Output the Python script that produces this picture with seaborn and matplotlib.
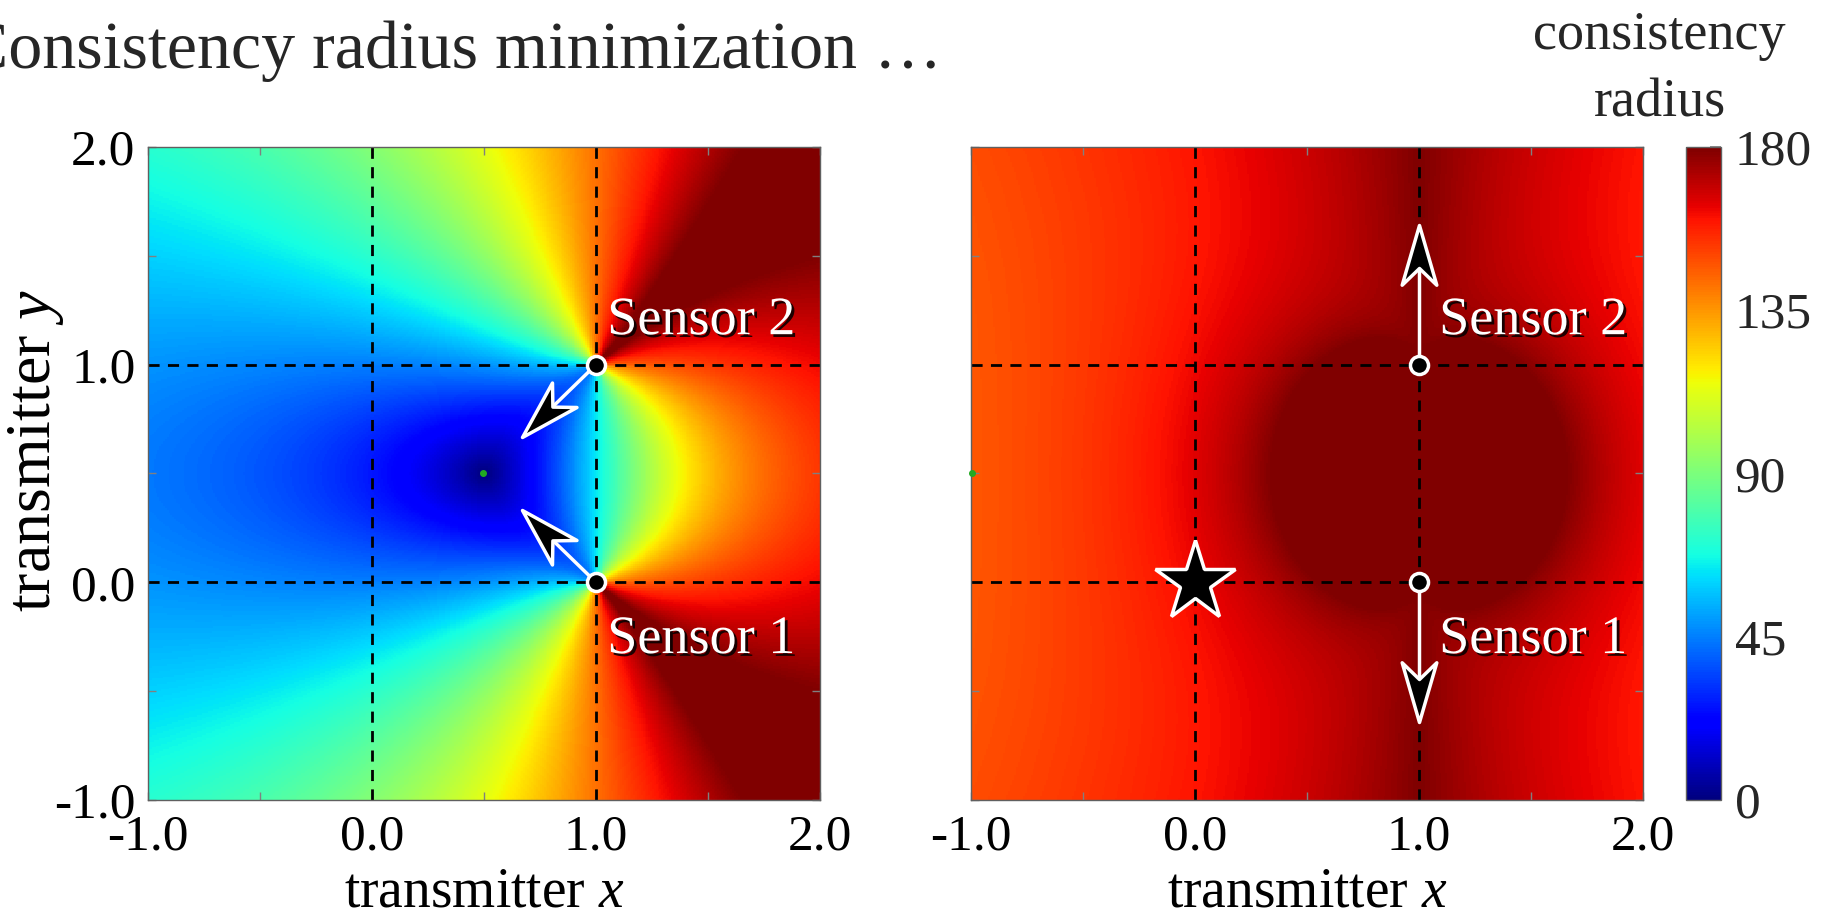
import numpy as np
import pandas as pd
import matplotlib
matplotlib.use('Agg')
import matplotlib.pyplot as plt
import matplotlib.patheffects as pe
from matplotlib.markers import MarkerStyle
from matplotlib.path import Path
from matplotlib.transforms import Affine2D
from matplotlib.ticker import MultipleLocator
import seaborn as sns

# sensors: position and measured bearing (degrees, ccw from +x)
sensor_names = ['Sensor 1', 'Sensor 2']
sensor_x = [1.0, 1.0]
sensor_y = [0.0, 1.0]
bearings_start = [135.0, 225.0]   # left panel, before minimization
bearings_end = [270.0, 90.0]      # right panel
arrow_len_start = 0.47
arrow_len_end = 0.64

# transmitter estimate shown on the right panel
star_x = [0.0]
star_y = [0.0]

guide_lines = [0.0, 1.0]
x_range = [-1.0, 2.0]
y_range = [-1.0, 2.0]
axis_ticks = [-1.0, 0.0, 1.0, 2.0]
axis_ticklabels = ['-1.0', '0.0', '1.0', '2.0']
cbar_ticks = [0, 45, 90, 135, 180]
n_cells = 360


def consistency_radius(bearings, n=n_cells):
    # angular mismatch of each sensor's bearing vs. a transmitter at each cell
    step = (x_range[1] - x_range[0]) / n
    xs = x_range[0] + (np.arange(n) + 0.5) * step
    ys = y_range[1] - (np.arange(n) + 0.5) * step   # top row first (heatmap)
    gx, gy = np.meshgrid(xs, ys)
    sq = np.zeros_like(gx)
    for sx, sy, b in zip(sensor_x, sensor_y, bearings):
        ang = np.degrees(np.arctan2(gy - sy, gx - sx))
        err = np.abs((ang - b + 180.0) % 360.0 - 180.0)
        sq += err ** 2
    field = np.minimum(np.sqrt(sq), 180.0)
    return pd.DataFrame(field, index=ys, columns=xs)


sns.set_theme(style='ticks')
plt.rcParams['font.family'] = ['Liberation Serif', 'DejaVu Serif']
plt.rcParams['mathtext.fontset'] = 'custom'
plt.rcParams['mathtext.it'] = 'Liberation Serif:italic'
plt.rcParams['mathtext.rm'] = 'Liberation Serif'
plt.rcParams['axes.unicode_minus'] = False

fig = plt.figure(figsize=(18.3, 9.17), dpi=100)
pos_left = [0.0809, 0.1276, 0.3672, 0.7121]
pos_right = [0.5306, 0.1276, 0.3672, 0.7121]
pos_cbar = [0.9213, 0.1276, 0.0191, 0.7121]
cax = fig.add_axes(pos_cbar)

head_path = Path([(0, 0), (-1.0, 0.29), (-0.72, 0.0), (-1.0, -0.29), (0, 0)],
                 [Path.MOVETO, Path.LINETO, Path.LINETO, Path.LINETO, Path.CLOSEPOLY])
shadow = [pe.withSimplePatchShadow(offset=(2, -2), shadow_rgbFace='black', alpha=0.85)]


def draw_panel(pos, bearings, arrow_len, label_dx, with_cbar, show_ylabels):
    field = consistency_radius(bearings)

    ax_img = fig.add_axes(pos)
    sns.heatmap(field, ax=ax_img, cmap='jet', vmin=0, vmax=180,
                cbar=with_cbar, cbar_ax=cax if with_cbar else None,
                xticklabels=False, yticklabels=False, rasterized=True)
    ax_img.set_axis_off()

    ax = fig.add_axes(pos, facecolor='none')
    ax.set_zorder(ax_img.get_zorder() + 1)
    ax.set_xlim(x_range)
    ax.set_ylim(y_range)

    for g in guide_lines:
        ax.axvline(g, color='black', lw=2, ls=(0, (4, 3)), zorder=2)
        ax.axhline(g, color='black', lw=2, ls=(0, (4, 3)), zorder=2)

    # position of the field minimum
    iy, ix = np.unravel_index(np.argmin(field.values), field.shape)
    ax.plot(field.columns[ix], field.index[iy], 'o', ms=4, color='#22aa22', zorder=3, clip_on=False)

    for name, sx, sy, b in zip(sensor_names, sensor_x, sensor_y, bearings):
        d = np.array([np.cos(np.radians(b)), np.sin(np.radians(b))])
        tip = np.array([sx, sy]) + arrow_len * d
        shaft_end = tip - 0.15 * d
        ax.plot([sx, shaft_end[0]], [sy, shaft_end[1]], color='white', lw=2.5, zorder=4)
        ax.plot(tip[0], tip[1], ls='none',
                marker=MarkerStyle(head_path, transform=Affine2D().rotate_deg(b)),
                ms=86, mfc='black', mec='white', mew=2.5, zorder=5)
        dy = 0.14 if sy > 0.5 else -0.325
        ax.text(sx + label_dx, sy + dy, name, color='white', fontsize=39,
                ha='left', va='baseline', path_effects=shadow, zorder=7)

    ax.plot(sensor_x, sensor_y, 'o', ms=13, mfc='black', mec='white', mew=2.5, zorder=6)

    ax.set_xticks(axis_ticks, axis_ticklabels)
    ax.set_yticks(axis_ticks, axis_ticklabels if show_ylabels else [])
    ax.xaxis.set_minor_locator(MultipleLocator(0.5))
    ax.yaxis.set_minor_locator(MultipleLocator(0.5))
    ax.tick_params(which='both', direction='in', top=True, right=True,
                   color='#808080', labelsize=37, labelcolor='black')
    ax.tick_params(which='major', length=6, width=1)
    ax.tick_params(which='minor', length=6, width=1)
    ax.tick_params(axis='x', pad=10)
    ax.tick_params(axis='y', pad=9)
    for sp in ax.spines.values():
        sp.set_visible(True)
        sp.set_color('#606060')
        sp.set_linewidth(1.0)

    ax.set_xlabel('transmitter $x$', fontsize=40, color='black')
    ax.xaxis.label.set_verticalalignment('baseline')
    ax.xaxis.set_label_coords(0.5, -0.163)
    return ax, ax_img


ax1, img1 = draw_panel(pos_left, bearings_start, arrow_len_start, 0.05, True, True)
ax1.set_ylabel('transmitter $y$', fontsize=46, color='black')
ax1.yaxis.label.set_verticalalignment('center')
ax1.yaxis.set_label_coords(-0.167, 0.535)

ax2, img2 = draw_panel(pos_right, bearings_end, arrow_len_end, 0.09, False, False)
ax2.plot(star_x, star_y, ls='none', marker='*', ms=60, mfc='black', mec='white', mew=2.5, zorder=6)

cbar = img1.collections[0].colorbar
cbar.set_ticks(cbar_ticks)
cbar.ax.yaxis.set_minor_locator(MultipleLocator(22.5))
cbar.ax.tick_params(which='both', direction='in', right=True, left=False,
                    color='#808080', labelsize=37, pad=10)
cbar.ax.tick_params(which='major', length=8)
cbar.ax.tick_params(which='minor', length=8)
cbar.outline.set_visible(True)
cbar.outline.set_linewidth(1.0)
cbar.outline.set_edgecolor('#606060')

fig.text(0.907, 0.9466, 'consistency', ha='center', va='baseline', fontsize=39)
fig.text(0.907, 0.8727, 'radius', ha='center', va='baseline', fontsize=39)
fig.text(-0.020, 0.926, 'Consistency radius minimization \u2026', ha='left', va='baseline', fontsize=49)

fig.savefig('out.png', dpi=100)
